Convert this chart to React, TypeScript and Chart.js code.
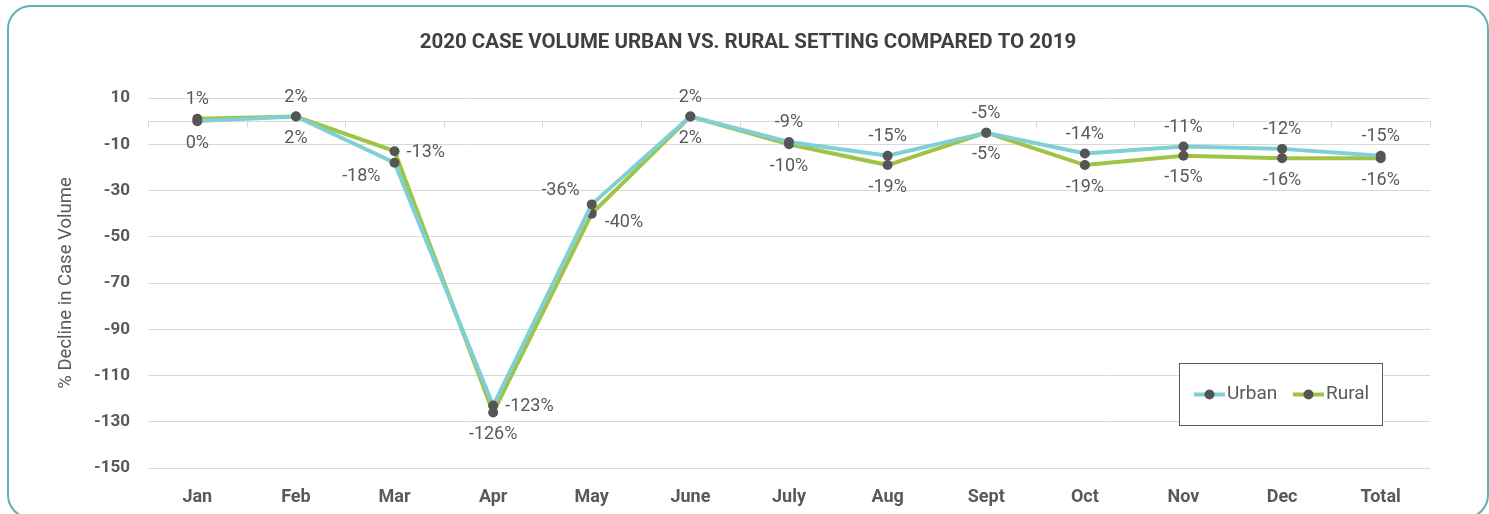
import React, { useEffect, useRef } from "react";
import { Chart, registerables } from "chart.js";

Chart.register(...registerables);

const categories = ["Jan", "Feb", "Mar", "Apr", "May", "June", "July", "Aug", "Sept", "Oct", "Nov", "Dec", "Total"];
const urbanValues = [0, 2, -18, -123, -36, 2, -9, -15, -5, -14, -11, -12, -15];
const ruralValues = [1, 2, -13, -126, -40, 2, -10, -19, -5, -19, -15, -16, -16];
const yTickValues = [10, -10, -30, -50, -70, -90, -110, -130, -150];

const TITLE = "2020 CASE VOLUME URBAN VS. RURAL SETTING COMPARED TO 2019";
const Y_TITLE = "% Decline in Case Volume";
const SERIES_NAMES = ["Urban", "Rural"];

// label placement styles (a = above, b = below, r = right, rb = right-low, lb = left-below, la = left-above)
const urbanLabelPlacement = ["b", "a", "lb", "r", "la", "a", "a", "a", "a", "a", "a", "a", "a"];
const ruralLabelPlacement = ["a", "b", "r", "b", "rb", "b", "b", "b", "b", "b", "b", "b", "b"];

const URBAN_COLOR = "#7fcfd6";
const RURAL_COLOR = "#9fc445";
const MARKER_COLOR = "#555555";
const TEXT_COLOR = "#595959";
const GRID_COLOR = "#d9d9d9";
const FONT = "Roboto";

const placementOffsets: Record<string, { dx: number; dy: number; align: CanvasTextAlign }> = {
  a: { dx: 0, dy: -19, align: "center" },
  b: { dx: 0, dy: 22, align: "center" },
  r: { dx: 12, dy: 1, align: "left" },
  rb: { dx: 13, dy: 9, align: "left" },
  lb: { dx: -14, dy: 14, align: "right" },
  la: { dx: -12, dy: -14, align: "right" },
};

const titlePlugin = {
  id: "centerTitle",
  afterDraw(chart: any) {
    const { ctx } = chart;
    ctx.save();
    ctx.font = `bold 20.5px ${FONT}`;
    ctx.fillStyle = "#404040";
    ctx.textAlign = "center";
    ctx.textBaseline = "middle";
    ctx.fillText(TITLE, 748, 43);
    ctx.restore();
  },
};

const zeroAxisPlugin = {
  id: "zeroAxis",
  beforeDatasetsDraw(chart: any) {
    const { ctx, chartArea } = chart;
    const y = Math.round(chart.scales.y.getPixelForValue(0)) + 0.5;
    const n = categories.length;
    const w = (chartArea.right - chartArea.left) / n;
    ctx.save();
    ctx.strokeStyle = GRID_COLOR;
    ctx.lineWidth = 1;
    ctx.beginPath();
    ctx.moveTo(chartArea.left, y);
    ctx.lineTo(chartArea.right, y);
    for (let i = 0; i <= n; i++) {
      const x = Math.round(chartArea.left + i * w) + 0.5;
      ctx.moveTo(x, y);
      ctx.lineTo(x, y + 6);
    }
    ctx.stroke();
    ctx.restore();
  },
};

const dataLabelPlugin = {
  id: "dataLabels",
  afterDatasetsDraw(chart: any) {
    const { ctx } = chart;
    const placements = [urbanLabelPlacement, ruralLabelPlacement];
    ctx.save();
    ctx.font = `18px ${FONT}`;
    ctx.fillStyle = TEXT_COLOR;
    ctx.textBaseline = "middle";
    chart.data.datasets.forEach((ds: any, di: number) => {
      const meta = chart.getDatasetMeta(di);
      meta.data.forEach((pt: any, i: number) => {
        const p = placementOffsets[placements[di][i]];
        ctx.textAlign = p.align;
        ctx.fillText(`${ds.data[i]}%`, pt.x + p.dx, pt.y + p.dy);
      });
    });
    ctx.restore();
  },
};

const legendPlugin = {
  id: "boxLegend",
  afterDraw(chart: any) {
    const { ctx } = chart;
    const bx = 1179.5, by = 363.5, bw = 203, bh = 62;
    ctx.save();
    ctx.fillStyle = "#ffffff";
    ctx.fillRect(bx, by, bw, bh);
    ctx.strokeStyle = "#595959";
    ctx.lineWidth = 1;
    ctx.strokeRect(bx, by, bw, bh);
    const cy = by + bh / 2;
    const items = [
      { x: 1194, color: URBAN_COLOR, label: SERIES_NAMES[0] },
      { x: 1293, color: RURAL_COLOR, label: SERIES_NAMES[1] },
    ];
    ctx.font = `19px ${FONT}`;
    ctx.textBaseline = "middle";
    ctx.textAlign = "left";
    items.forEach((it) => {
      ctx.strokeStyle = it.color;
      ctx.lineWidth = 4;
      ctx.beginPath();
      ctx.moveTo(it.x, cy);
      ctx.lineTo(it.x + 31, cy);
      ctx.stroke();
      ctx.fillStyle = MARKER_COLOR;
      ctx.beginPath();
      ctx.arc(it.x + 15.5, cy, 5, 0, Math.PI * 2);
      ctx.fill();
      ctx.fillStyle = TEXT_COLOR;
      ctx.fillText(it.label, it.x + 33, cy);
    });
    ctx.restore();
  },
};

export default function App() {
  const canvasRef = useRef<HTMLCanvasElement | null>(null);

  useEffect(() => {
    document.body.style.overflow = "hidden";
    const canvas = canvasRef.current;
    if (!canvas) return;
    const chart = new Chart(canvas, {
      type: "line",
      data: {
        labels: categories,
        datasets: [
          {
            label: SERIES_NAMES[0],
            data: urbanValues,
            borderColor: URBAN_COLOR,
            backgroundColor: MARKER_COLOR,
            borderWidth: 4,
            pointRadius: 5,
            pointBackgroundColor: MARKER_COLOR,
            pointBorderWidth: 0,
            tension: 0,
          },
          {
            label: SERIES_NAMES[1],
            data: ruralValues,
            borderColor: RURAL_COLOR,
            backgroundColor: MARKER_COLOR,
            borderWidth: 4,
            pointRadius: 5,
            pointBackgroundColor: MARKER_COLOR,
            pointBorderWidth: 0,
            tension: 0,
          },
        ],
      },
      options: {
        responsive: false,
        animation: false,
        devicePixelRatio: 1,
        layout: { padding: { left: 0, right: 59, top: 98, bottom: 0 } },
        plugins: {
          legend: { display: false },
          tooltip: { enabled: false },
          title: { display: false },
        },
        scales: {
          x: {
            grid: { display: false },
            border: { display: false },
            offset: true,
            ticks: {
              color: TEXT_COLOR,
              font: { family: FONT, size: 18, weight: "bold" },
              padding: 11,
              maxRotation: 0,
              autoSkip: false,
            },
            afterFit(scale: any) {
              scale.height = 46;
            },
          },
          y: {
            min: -150,
            max: 10,
            afterBuildTicks(scale: any) {
              scale.ticks = yTickValues.map((v) => ({ value: v }));
            },
            grid: { color: GRID_COLOR, drawTicks: false, lineWidth: 1 },
            border: { display: false },
            ticks: {
              color: TEXT_COLOR,
              font: { family: FONT, size: 17, weight: "bold" },
              padding: 18,
            },
            title: {
              display: true,
              text: Y_TITLE,
              color: TEXT_COLOR,
              font: { family: FONT, size: 18.5 },
              padding: { top: 55, bottom: 0 },
            },
            afterFit(scale: any) {
              scale.width = 148;
            },
          },
        },
      },
      plugins: [zeroAxisPlugin, dataLabelPlugin, legendPlugin, titlePlugin],
    });
    return () => chart.destroy();
  }, []);

  return (
    <div>
      <canvas
        ref={canvasRef}
        width={1489}
        height={514}
        style={{ position: "fixed", left: 0, top: 0, width: 1489, height: 514 }}
      />
      <div
        style={{
          position: "fixed",
          left: 7,
          top: 5,
          width: 1478,
          height: 510,
          border: "2px solid #5eb0b3",
          borderRadius: 24,
          pointerEvents: "none",
        }}
      />
    </div>
  );
}
